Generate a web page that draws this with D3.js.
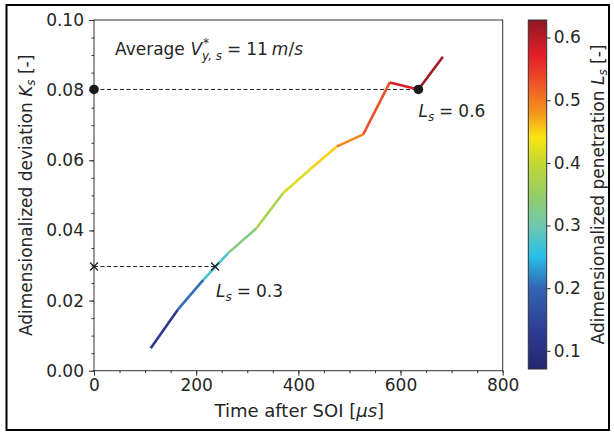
<!DOCTYPE html>
<html><head><meta charset="utf-8">
<script src="https://cdn.jsdelivr.net/npm/d3@7"></script>
<style>
body{margin:0;background:#fff}
svg{display:block}
text{font-family:"DejaVu Sans",sans-serif;fill:#262626}
</style>
</head><body>
<svg id="c" width="614" height="432"></svg>
<script>
// ---- data ----
const timeUs = [111, 164, 214, 263, 318, 370, 422, 475, 527, 579, 635, 683];
const Ks     = [0.0064, 0.0174, 0.0259, 0.0336, 0.0406, 0.0506, 0.0573, 0.0639, 0.0674, 0.0822, 0.0802, 0.0895];
const Ls     = [0.071, 0.17, 0.24, 0.31, 0.35, 0.40, 0.43, 0.47, 0.51, 0.55, 0.60, 0.628];
const marker03 = {t: 237, k: 0.0297, label: "0.3"};
const marker06 = {t: 635, k: 0.0802, label: "0.6"};
const xTicks = [0, 200, 400, 600, 800];
const xMinor = d3.range(0, 801, 50);
const yTicks = [0, 0.02, 0.04, 0.06, 0.08, 0.10];
const yMinor = d3.range(0, 0.1001, 0.005);
const cbTicks = [0.1, 0.2, 0.3, 0.4, 0.5, 0.6];
const cmapStops  = [0.071, 0.13, 0.2, 0.25, 0.3, 0.35, 0.4, 0.44, 0.48, 0.53, 0.57, 0.628];
const cmapColors = ["#26266e", "#2d3c91", "#3264b4", "#28bee9", "#6ec8af", "#96cd64", "#c3d732", "#fae614", "#f5961e", "#ee5028", "#e61e28", "#8c1923"];

const FS = 17;
const svg = d3.select("#c");
const L = 94, R = 502.7, T = 20, B = 370.7;

const x = d3.scaleLinear([0, 800], [L, R]);
const y = d3.scaleLinear([0, 0.1], [B, T]);
const color = d3.scaleLinear(cmapStops, cmapColors).interpolate(d3.interpolateRgb).clamp(true);

// frame border
svg.append("rect").attr("x", 6.5).attr("y", 5).attr("width", 602.5).attr("height", 425)
  .attr("fill", "none").attr("stroke", "#000").attr("stroke-width", 2);

// axes frame
svg.append("rect").attr("x", L).attr("y", T).attr("width", R - L).attr("height", B - T)
  .attr("fill", "none").attr("stroke", "#333").attr("stroke-width", 1);

function styleAxis(g) {
  g.select(".domain").remove();
  g.selectAll(".tick line").attr("stroke", "#333");
  g.selectAll(".tick text").attr("font-size", FS).attr("fill", "#262626")
    .attr("font-family", "DejaVu Sans");
}
svg.append("g").attr("transform", `translate(0,${B})`)
  .call(d3.axisBottom(x).tickValues(xMinor).tickSize(2.5).tickFormat("")).call(styleAxis);
svg.append("g").attr("transform", `translate(0,${B})`)
  .call(d3.axisBottom(x).tickValues(xTicks).tickSize(5).tickPadding(3).tickFormat(d3.format("d"))).call(styleAxis);
svg.append("g").attr("transform", `translate(${L},0)`)
  .call(d3.axisLeft(y).tickValues(yMinor).tickSize(2.5).tickFormat("")).call(styleAxis);
svg.append("g").attr("transform", `translate(${L},0)`)
  .call(d3.axisLeft(y).tickValues(yTicks).tickSize(5).tickPadding(5).tickFormat(d3.format(".2f"))).call(styleAxis);

// axis labels
{
  const t = svg.append("text").attr("x", (L + R) / 2 + 1).attr("y", 417).attr("text-anchor", "middle").attr("font-size", FS + 1);
  t.append("tspan").text("Time after SOI [");
  t.append("tspan").attr("font-style", "italic").text("μs");
  t.append("tspan").text("]");
}
{
  const t = svg.append("text").attr("transform", `translate(32,${(T + B) / 2}) rotate(-90)`)
    .attr("text-anchor", "middle").attr("font-size", FS);
  t.append("tspan").text("Adimensionalized deviation ");
  t.append("tspan").attr("font-style", "italic").text("K");
  t.append("tspan").attr("font-style", "italic").attr("font-size", FS * 0.7).attr("dy", 3).text("s");
  t.append("tspan").attr("dy", -3).text(" [-]");
}

// dashed guides
const dash = "4,2.5";
svg.append("line").attr("x1", x(0)).attr("x2", x(marker06.t)).attr("y1", y(marker06.k)).attr("y2", y(marker06.k))
  .attr("stroke", "#222").attr("stroke-width", 1).attr("stroke-dasharray", dash);
svg.append("line").attr("x1", x(0)).attr("x2", x(marker03.t)).attr("y1", y(marker03.k)).attr("y2", y(marker03.k))
  .attr("stroke", "#222").attr("stroke-width", 1).attr("stroke-dasharray", dash);

// colored line segments
const segs = d3.range(timeUs.length - 1).map(i => ({
  x1: timeUs[i], y1: Ks[i], x2: timeUs[i + 1], y2: Ks[i + 1], v: (Ls[i] + Ls[i + 1]) / 2
}));
svg.append("g").selectAll("line").data(segs).join("line")
  .attr("x1", d => x(d.x1)).attr("y1", d => y(d.y1))
  .attr("x2", d => x(d.x2)).attr("y2", d => y(d.y2))
  .attr("stroke", d => color(d.v)).attr("stroke-width", 2.6).attr("stroke-linecap", "butt");

// markers
[[0, marker06.k], [marker06.t, marker06.k]].forEach(p => {
  svg.append("circle").attr("cx", x(p[0])).attr("cy", y(p[1])).attr("r", 4.8).attr("fill", "#1a1a1a");
});
[[0, marker03.k], [marker03.t, marker03.k]].forEach(p => {
  const cx = x(p[0]), cy = y(p[1]), s = 4;
  svg.append("path").attr("d", `M${cx - s},${cy - s}L${cx + s},${cy + s}M${cx - s},${cy + s}L${cx + s},${cy - s}`)
    .attr("stroke", "#1a1a1a").attr("stroke-width", 1.2);
});

// math-ish text helper
function flow(x0, y0, parts) {
  let cx = x0;
  parts.forEach(p => {
    if (p.space) { cx += p.space; return; }
    if (p.supsub) {
      const size = FS * 0.7;
      const a = svg.append("text").attr("x", cx + (p.supdx || 0)).attr("y", y0 - FS * 0.45).attr("font-size", size).text(p.sup);
      const b = svg.append("text").attr("x", cx).attr("y", y0 + FS * 0.28).attr("font-size", size)
        .attr("font-style", "italic").text(p.sub);
      cx += Math.max(a.node().getComputedTextLength() + (p.supdx || 0), b.node().getComputedTextLength());
      return;
    }
    const size = p.sub ? FS * 0.7 : FS;
    const t = svg.append("text").attr("x", cx).attr("y", y0 + (p.sub ? FS * 0.22 : 0)).attr("font-size", size)
      .attr("font-style", p.it ? "italic" : "normal").text(p.t);
    cx += t.node().getComputedTextLength();
  });
}
flow(115, 55, [
  {t: "Average"}, {space: FS * 0.33}, {t: "V", it: true},
  {supsub: true, sup: "*", sub: "y, s", supdx: 1},
  {space: 5}, {t: "="}, {space: 5}, {t: "11"}, {space: 4},
  {t: "m", it: true}, {t: "/"}, {t: "s", it: true}
]);
function lsLabel(x0, y0, val) {
  flow(x0, y0, [{t: "L", it: true}, {t: "s", it: true, sub: true}, {space: 5}, {t: "="}, {space: 5}, {t: val}]);
}
lsLabel(x(marker03.t) + 1, 297, marker03.label);
lsLabel(x(marker06.t), 117, marker06.label);

// colorbar
const cbX = 528.3, cbW = 18.4, cbT = 20, cbB = 369;
const cy = d3.scaleLinear([cmapStops[0], cmapStops[cmapStops.length - 1]], [cbB, cbT]);
const defs = svg.append("defs");
const grad = defs.append("linearGradient").attr("id", "cb").attr("x1", 0).attr("y1", 1).attr("x2", 0).attr("y2", 0);
grad.selectAll("stop").data(cmapStops).join("stop")
  .attr("offset", d => (d - cmapStops[0]) / (cmapStops[cmapStops.length - 1] - cmapStops[0]))
  .attr("stop-color", d => color(d));
svg.append("rect").attr("x", cbX).attr("y", cbT).attr("width", cbW).attr("height", cbB - cbT)
  .attr("fill", "url(#cb)").attr("stroke", "#333").attr("stroke-width", 1);
svg.append("g").attr("transform", `translate(${cbX + cbW},0)`)
  .call(d3.axisRight(cy).tickValues(cbTicks).tickSize(4).tickPadding(3).tickFormat(d3.format(".1f"))).call(styleAxis);
{
  const t = svg.append("text").attr("transform", `translate(604,${(cbT + cbB) / 2}) rotate(-90)`)
    .attr("text-anchor", "middle").attr("font-size", FS);
  t.append("tspan").text("Adimensionalized penetration ");
  t.append("tspan").attr("font-style", "italic").text("L");
  t.append("tspan").attr("font-style", "italic").attr("font-size", FS * 0.7).attr("dy", 3).text("s");
  t.append("tspan").attr("dy", -3).text(" [-]");
}
</script>
</body></html>
